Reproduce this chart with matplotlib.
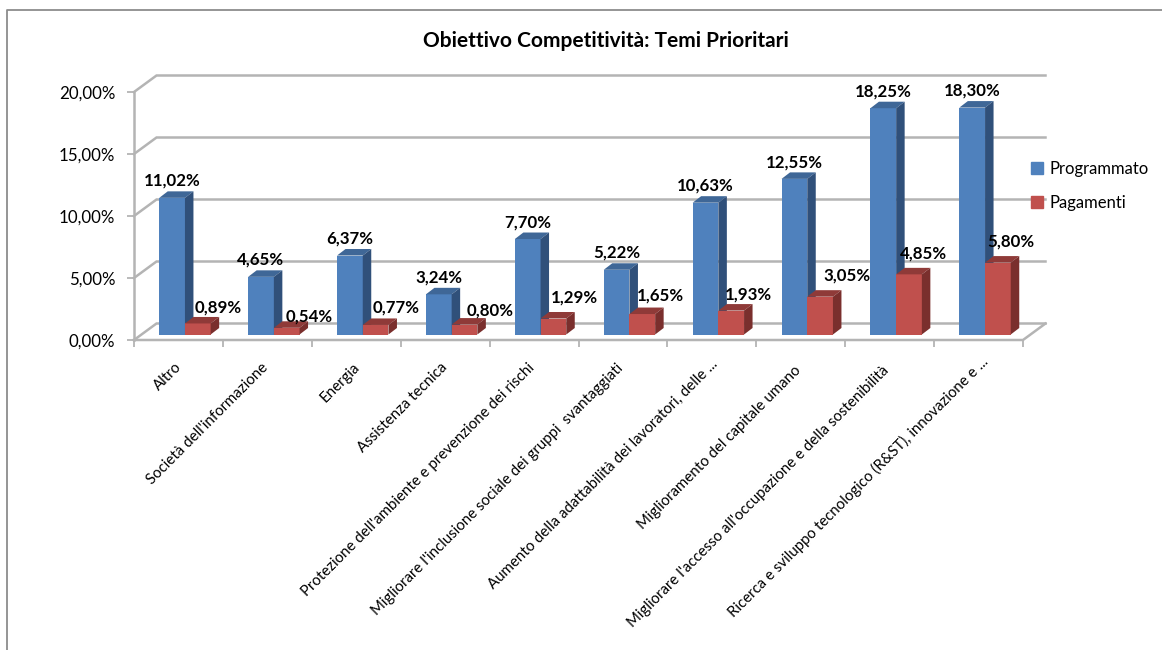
import matplotlib
matplotlib.use("Agg")
import matplotlib.pyplot as plt
from matplotlib.patches import Polygon
from matplotlib.lines import Line2D

categories = ["Altro", "Società dell'informazione", "Energia", "Assistenza tecnica",
              "Protezione dell'ambiente e prevenzione dei rischi",
              "Migliorare l'inclusione sociale dei gruppi  svantaggiati",
              "Aumento della adattabilità dei lavoratori, delle ...",
              "Miglioramento del capitale umano",
              "Migliorare l'accesso all'occupazione e della sostenibilità",
              "Ricerca e sviluppo tecnologico (R&ST), innovazione e ..."]
programmato = [11.02, 4.65, 6.37, 3.24, 7.70, 5.22, 10.63, 12.55, 18.25, 18.30]
pagamenti = [0.89, 0.54, 0.77, 0.80, 1.29, 1.65, 1.93, 3.05, 4.85, 5.80]
y_ticks = [0, 5, 10, 15, 20]
y_tick_labels = ["0,00%", "5,00%", "10,00%", "15,00%", "20,00%"]
title = "Obiettivo Competitività: Temi Prioritari"
# nudges (pixels) of the red data labels, which the original placed by hand
red_label_dx = [7, 9, 7, 12, 8, 5, 4, 14, 1, 0]
red_label_dy = [5, 10, 4, 7, 0, 3, 5, 0, 0, 0]
# nudges (pixels) of the category labels
cat_label_dx = [0, -2, 0, -1, -3, -3, 3, -3, -4, 6]
cat_label_dy = [0, 0, 0, 0, -1, -1, 3, -3, -3, 6]

W, H = 1162, 650
plt.rcParams['font.family'] = ['Lato', 'DejaVu Sans']
fig = plt.figure(figsize=(W / 100, H / 100), dpi=100)

# full-figure layer for the chart frame (open on the right and at the bottom)
bg = fig.add_axes([0, 0, 1, 1]); bg.set_xlim(0, W); bg.set_ylim(H, 0); bg.axis("off")
bg.plot([6.5, 6.5, W], [H, 9.5, 9.5], color="#8c8c8c", lw=1.3)

L, R, T, B = 134, 1023, 92, 340
ax = fig.add_axes([L / W, 1 - B / H, (R - L) / W, (B - T) / H])
ax.set_xlim(0, len(categories)); ax.set_ylim(0, 20)
ax.patch.set_alpha(0)
for s in ax.spines.values():
    s.set_visible(False)

px = (R - L) / len(categories)     # pixels per category
py = (B - T) / 20                  # pixels per percent
wall_dx, wall_dy = 22.5 / px, 16.5 / py    # depth of the floor
grid_c = "#b4b4b4"

for v in y_ticks:
    ax.plot([0, wall_dx, len(categories) + wall_dx], [v, v + wall_dy, v + wall_dy],
            color=grid_c, lw=1.8, clip_on=False, zorder=1, solid_joinstyle="miter")
ax.plot([0, len(categories), len(categories) + wall_dx],
        [0, 0, wall_dy], color=grid_c, lw=1.8, clip_on=False, zorder=1)
ax.plot([0, 0], [0, 20], color=grid_c, lw=1.8, clip_on=False, zorder=1)

ax.set_xticks(range(len(categories) + 1))
ax.set_xticklabels([])
ax.set_yticks(y_ticks)
ax.set_yticklabels(y_tick_labels, fontsize=12.2, color="black")
ax.tick_params(axis="both", color=grid_c, width=1.3, length=5, pad=7)
ax.tick_params(axis="y", pad=8.5)

# bar geometry, expressed in axis units
bw = 25.7 / px
off = 6.5 / px
base = 5.5 / py
bdx, bdy = 8.5 / px, 6.5 / py


def bar3d(x0, v, front, top, side, z):
    r = ax.bar(x0, v, bw, bottom=base, align="edge", color=front, zorder=z, clip_on=False)[0]
    y1 = base + v
    ax.add_patch(Polygon([(x0, y1), (x0 + bdx, y1 + bdy), (x0 + bw + bdx, y1 + bdy), (x0 + bw, y1)],
                         closed=True, fc=top, ec="none", zorder=z, clip_on=False))
    ax.add_patch(Polygon([(x0 + bw, base), (x0 + bw + bdx, base + bdy), (x0 + bw + bdx, y1 + bdy), (x0 + bw, y1)],
                         closed=True, fc=side, ec="none", zorder=z, clip_on=False))
    return r


for i, (a, b) in enumerate(zip(programmato, pagamenti)):
    c = i + 0.5 + off
    z = 3 + i
    bar3d(c - bw, a, "#4f81bd", "#3f6797", "#30507a", z)
    bar3d(c, b, "#c0504d", "#8f3a38", "#7a2f2d", z + 0.5)
    ax.annotate(f"{a:.2f}".replace(".", ",") + "%",
                xy=(c - 0.5 * bw + bdx / 2, base + a + bdy + 0.35),
                xytext=(-4.5, -2), textcoords="offset pixels",
                ha="center", va="bottom", fontsize=12.2, fontweight="bold", zorder=30, annotation_clip=False)
    ax.annotate(f"{b:.2f}".replace(".", ",") + "%",
                xy=(c + 0.5 * bw + bdx / 2 + 0.1, base + b + bdy + 0.55),
                xytext=(red_label_dx[i], -red_label_dy[i]), textcoords="offset pixels",
                ha="center", va="bottom", fontsize=12.2, fontweight="bold", zorder=30, annotation_clip=False)

# category labels: rotated, right end anchored beneath the tick slot
for i, name in enumerate(categories):
    ax.annotate(name, xy=(i + 0.5, 0), xytext=(-4 + cat_label_dx[i], -20 + cat_label_dy[i]),
                textcoords="offset pixels",
                rotation=45, rotation_mode="anchor", ha="right", va="top",
                fontsize=10.8, color="black", annotation_clip=False)

fig.text(605.5 / W, 1 - 41 / H, title, ha="center", va="center", fontsize=15, fontweight="bold")

handles = [Line2D([], [], marker="s", ls="", ms=8, color="#4f81bd"),
           Line2D([], [], marker="s", ls="", ms=8, color="#c0504d")]
fig.legend(handles, ["Programmato", "Pagamenti"], loc="upper left",
           bbox_to_anchor=(1015 / W, 1 - 153 / H), frameon=False, fontsize=12,
           labelspacing=1.05, handletextpad=-0.05, borderpad=0, handlelength=1.6)

fig.savefig("out.png", dpi=100)
